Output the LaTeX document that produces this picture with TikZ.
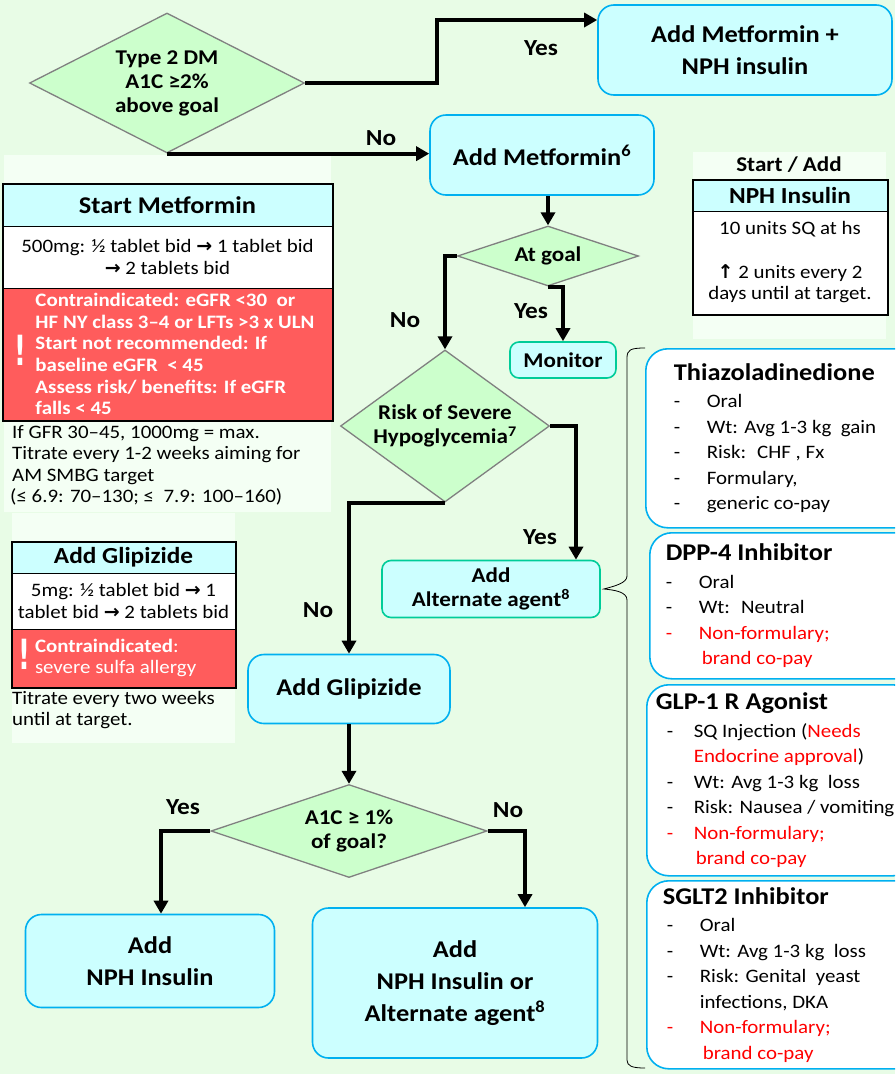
\documentclass[tikz,border=0pt]{standalone}
\usepackage{fontspec}
\setmainfont{Carlito}[FakeStretch=1.1]
\newfontfamily\symfont{DejaVu Sans}
\usetikzlibrary{shapes, arrows.meta, positioning}
\definecolor{bggreen}{RGB}{232,252,230}
\definecolor{panelgreen}{RGB}{244,255,244}
\definecolor{decgreen}{RGB}{204,255,204}
\definecolor{boxcyan}{RGB}{204,255,255}
\definecolor{edgeblue}{RGB}{0,176,240}
\definecolor{edgeteal}{RGB}{0,204,153}
\definecolor{warnred}{RGB}{255,92,92}
\newcommand{\sym}[1]{{\symfont\bfseries #1}}
\newcommand{\itm}[1][33pt]{\makebox[#1][l]{-}}
\newcommand{\bang}{\scalebox{1}[1.6]{\fontsize{26}{26}\symfont\bfseries !}}
\tikzset{
    every node/.style={inner sep=0pt},
    conn/.style={-{Triangle[length=13pt,width=14pt]}, line width=4pt}, % thick black arrows
}
\tikzstyle{decision}=[diamond, draw=gray, fill=decgreen, line width=1.3pt, align=center, font=\fontsize{21}{24}\selectfont\bfseries]
\tikzstyle{process}=[rectangle, rounded corners=16pt, draw=edgeblue, fill=boxcyan, line width=1.6pt, align=center, font=\fontsize{24}{32}\selectfont\bfseries]
\tikzstyle{minor}=[process, draw=edgeteal, rounded corners=9pt, font=\fontsize{21}{24}\selectfont\bfseries]
\tikzstyle{lbl}=[font=\fontsize{23}{24}\selectfont\bfseries]
\tikzstyle{tabhead}=[rectangle, draw=black, fill=boxcyan, line width=1pt, font=\fontsize{24}{26}\selectfont\bfseries]
\tikzstyle{tabbody}=[rectangle, draw=black, fill=white, line width=1pt, align=center, font=\fontsize{19}{21.5}\selectfont]
\tikzstyle{tabwarn}=[rectangle, draw=black, fill=warnred, line width=1pt, text=white, font=\fontsize{19}{21.6}\selectfont\bfseries]
\tikzstyle{note}=[align=left, font=\fontsize{19}{21.5}\selectfont]
\tikzstyle{drug}=[rectangle, rounded corners=22pt, draw=edgeblue, fill=white, line width=1.6pt, align=flush left, text width=250pt, font=\fontsize{19}{25.5}\selectfont]

\begin{document}
\begin{tikzpicture}[x=1pt, y=-1pt]
\clip (0,0) rectangle (895,1074);
\fill[bggreen] (0,0) rectangle (895,1074);
% light panels
\fill[panelgreen] (4,155) rectangle (331,512);
\fill[panelgreen] (12,513) rectangle (235,743);
\fill[panelgreen] (693,152) rectangle (886,339);

% main flow
\node[decision, aspect=2, minimum width=275pt, minimum height=140pt] (t2dm) at (167,83) {Type 2 DM\\A1C ≥2\%\\above goal};
\node[process, minimum width=294pt, minimum height=90pt] (addmp) at (745,50) {Add Metformin +\\NPH insulin};
\node[process, minimum width=224pt, minimum height=80pt] (addmet) at (542,155) {Add Metformin\textsuperscript{6}};
\node[decision, aspect=3, minimum width=181pt, minimum height=60pt] (atgoal) at (548,256) {At goal};
\node[minor, minimum width=106pt, minimum height=36pt] (monitor) at (563,360) {Monitor};
\node[decision, aspect=1.4, minimum width=209pt, minimum height=152pt, font=\fontsize{21}{24}\selectfont\bfseries] (risk) at (445,426) {Risk of Severe\\Hypoglycemia\textsuperscript{7}};
\node[minor, minimum width=218pt, minimum height=57pt] (alt) at (491,589) {Add\\Alternate agent\textsuperscript{8}};
\node[process, minimum width=202pt, minimum height=69pt] (glip) at (349,689) {Add Glipizide};
\node[decision, aspect=3, minimum width=276pt, minimum height=93pt, font=\fontsize{21}{24}\selectfont\bfseries] (a1c) at (349,831) {A1C ≥ 1\%\\of goal?};
\node[process, minimum width=249pt, minimum height=93pt] (nph) at (150,961) {Add\\NPH Insulin};
\node[process, minimum width=285pt, minimum height=150pt] (nphalt) at (455,983) {Add\\NPH Insulin or\\Alternate agent\textsuperscript{8}};

\draw[conn] (t2dm.east) -- ++(132,0) |- ([yshift=30pt]addmp.west);
\draw[conn] (t2dm.south) -- (t2dm.south -| addmet.west);
\draw[conn] (atgoal.north |- addmet.south) -- (atgoal.north);
\draw[conn] (atgoal.west) -| (risk.north);
\draw[conn] (atgoal.south) -| (monitor.north);
\draw[conn] (risk.east) -| ([xshift=85pt]alt.north);
\draw[conn] (risk.south) -| (glip.north);
\draw[conn] (glip.south) -- (a1c.north);
\draw[conn] (a1c.west) -| ([xshift=11pt]nph.north);
\draw[conn] (a1c.east) -| ([xshift=70pt]nphalt.north);

\node[lbl] (yes1) at (541,48) {Yes};
\node[lbl] (no1) at (381,138) {No};
\node[lbl] (no2) at (405,320) {No};
\node[lbl] (yes2) at (531,311) {Yes};
\node[lbl] (yes3) at (540,537) {Yes};
\node[lbl] (no3) at (318,610) {No};
\node[lbl] (yes4) at (183,807) {Yes};
\node[lbl] (no4) at (508,810) {No};

% start metformin panel
\node[tabhead, minimum width=329pt, minimum height=42pt] (smhead) at (167.5,205) {Start Metformin};
\node[tabbody, minimum width=329pt, minimum height=62pt] (smdose) at (167.5,257) {500mg: ½ tablet bid \sym{→} 1 tablet bid\\\sym{→} 2 tablets bid};
\node[tabwarn, minimum width=329pt, minimum height=132pt] (smwarn) at (167.5,354) {\makebox[31pt]{\raisebox{-7pt}{\bang}}\parbox[c]{295pt}{\raggedright
  Contraindicated: eGFR <30~ or\\HF NY class 3–4 or LFTs >3 x ULN\\Start not recommended: If\\baseline eGFR~ < 45\\Assess risk/ benefits: If eGFR\\falls < 45}};
\draw[line width=2pt] (smhead.north west) rectangle (smwarn.south east);
\node[note, anchor=north west] (smnote) at (12,425) {If GFR 30–45, 1000mg = max.\\Titrate every 1-2 weeks aiming for\\AM SMBG target\\\hspace*{-2pt}(≤ 6.9: 70–130; ≤~ 7.9: 100–160)};

% glipizide panel
\node[tabhead, minimum width=223pt, minimum height=31pt, font=\fontsize{23}{26}\selectfont\bfseries] (gphead) at (123.5,557.5) {Add Glipizide};
\node[tabbody, minimum width=223pt, minimum height=56pt] (gpdose) at (123.5,601) {5mg: ½ tablet bid \sym{→} 1\\tablet bid \sym{→} 2 tablets bid};
\node[tabwarn, minimum width=223pt, minimum height=58pt] (gpwarn) at (123.5,658) {\makebox[22pt]{\raisebox{-7pt}{\bang}}\parbox[c]{199pt}{\raggedright
  Contraindicated\mdseries:\\\mdseries severe sulfa allergy}};
\draw[line width=2pt] (gphead.north west) rectangle (gpwarn.south east);
\node[note, anchor=north west] (gpnote) at (12,691) {Titrate every two weeks\\until at target.};

% nph panel
\node[lbl, font=\fontsize{21}{24}\selectfont\bfseries] (nphtop) at (789,165) {Start / Add};
\node[tabhead, minimum width=194pt, minimum height=31pt, font=\fontsize{23}{26}\selectfont\bfseries] (nphhead) at (790,195.5) {NPH Insulin};
\node[tabbody, minimum width=194pt, minimum height=103pt] (nphbody) at (790,262.5) {10 units SQ at hs\\[22pt]\sym{↑} 2 units every 2\\days until at target.};
\draw[line width=2pt] (nphhead.north west) rectangle (nphbody.south east);

% alternate agents
\node[drug, anchor=north west, inner xsep=28pt, minimum height=179pt] (tzd) at (645,348) {{\fontsize{24}{28}\selectfont\bfseries Thiazoladinedione}\\[2pt]
  \itm Oral\\\itm Wt: Avg 1-3 kg~ gain\\\itm Risk:~ CHF , Fx\\\itm Formulary,\\\itm generic co-pay};
\node[drug, anchor=north west, inner xsep=16pt, minimum height=146pt] (dpp) at (649,532) {{\fontsize{24}{28}\selectfont\bfseries DPP-4 Inhibitor}\\[2pt]
  \itm Oral\\\itm Wt:~ Neutral\\\textcolor{red}{\itm Non-formulary;}\\\hspace*{36pt}\textcolor{red}{brand co-pay}};
\node[drug, anchor=north west, inner xsep=9pt, minimum height=191pt] (glp) at (646,684) {{\fontsize{24}{28}\selectfont\bfseries GLP-1 R Agonist}\\[2pt]
  \hspace*{11pt}\itm[27pt]SQ Injection (\textcolor{red}{Needs}\\\hspace*{38pt}\textcolor{red}{Endocrine approval})\\\hspace*{11pt}\itm[27pt]Wt: Avg 1-3 kg~ loss\\\hspace*{11pt}\itm[27pt]Risk: Nausea / vomiting\\\hspace*{11pt}\textcolor{red}{\itm[27pt]Non-formulary;}\\\hspace*{40pt}\textcolor{red}{brand co-pay}};
\node[drug, anchor=north west, inner xsep=16pt, minimum height=188pt] (sglt) at (646,880) {{\fontsize{24}{28}\selectfont\bfseries SGLT2 Inhibitor}\\[2pt]
  \hspace*{4pt}\itm Oral\\\hspace*{4pt}\itm Wt: Avg 1-3 kg~ loss\\\hspace*{4pt}\itm Risk: Genital~ yeast\\\hspace*{37pt}infections, DKA\\\hspace*{4pt}\textcolor{red}{\itm Non-formulary;}\\\hspace*{40pt}\textcolor{red}{brand co-pay}};

% brace towards the alternate agent box
\draw[line width=0.8pt] (645,348) .. controls (630,348) and (627,350) .. (627,358) -- (627,576) .. controls (627,583) and (615,586) .. ([xshift=3pt]alt.east) .. controls (615,590) and (627,592) .. (627,600) -- (627,1060) .. controls (627,1066) and (632,1068) .. (645,1068);
\end{tikzpicture}
\end{document}
